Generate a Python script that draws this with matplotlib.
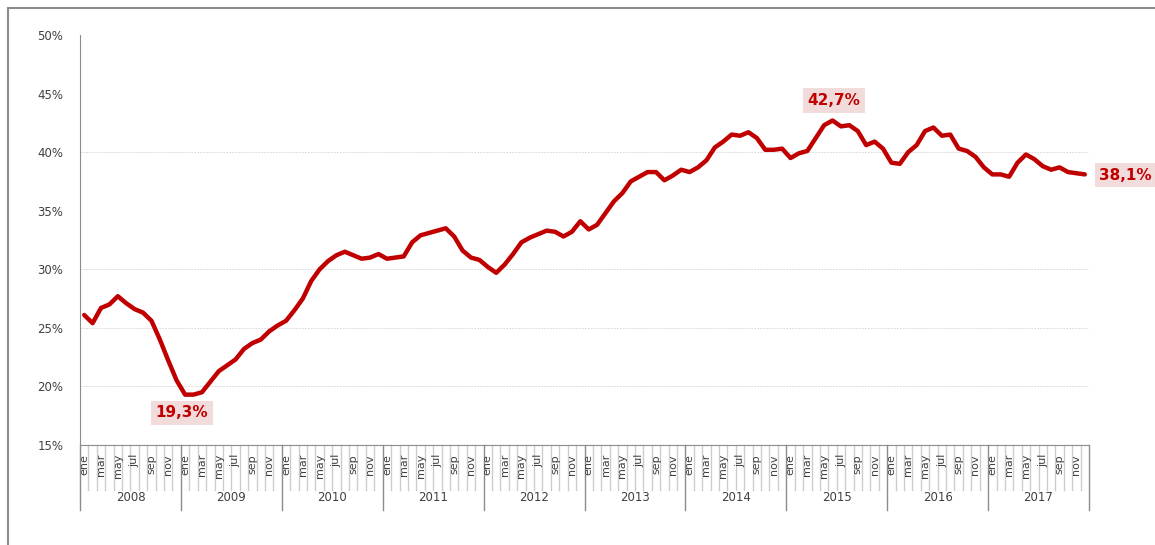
import matplotlib
matplotlib.use("Agg")
import matplotlib.pyplot as plt
import matplotlib.transforms as mtransforms
from matplotlib.patches import Rectangle
import numpy as np

years = ["2008", "2009", "2010", "2011", "2012", "2013", "2014", "2015", "2016", "2017"]
month_labels = ["ene", "", "mar", "", "may", "", "jul", "", "sep", "", "nov", ""]

# monthly values (%) per year
v2008 = [26.1, 25.4, 26.7, 27.0, 27.7, 27.1, 26.6, 26.3, 25.6, 24.0, 22.2, 20.5]
v2009 = [19.3, 19.3, 19.5, 20.4, 21.3, 21.8, 22.3, 23.2, 23.7, 24.0, 24.7, 25.2]
v2010 = [25.6, 26.5, 27.5, 29.0, 30.0, 30.7, 31.2, 31.5, 31.2, 30.9, 31.0, 31.3]
v2011 = [30.9, 31.0, 31.1, 32.3, 32.9, 33.1, 33.3, 33.5, 32.8, 31.6, 31.0, 30.8]
v2012 = [30.2, 29.7, 30.4, 31.3, 32.3, 32.7, 33.0, 33.3, 33.2, 32.8, 33.2, 34.1]
v2013 = [33.4, 33.8, 34.8, 35.8, 36.5, 37.5, 37.9, 38.3, 38.3, 37.6, 38.0, 38.5]
v2014 = [38.3, 38.7, 39.3, 40.4, 40.9, 41.5, 41.4, 41.7, 41.2, 40.2, 40.2, 40.3]
v2015 = [39.5, 39.9, 40.1, 41.2, 42.3, 42.7, 42.2, 42.3, 41.8, 40.6, 40.9, 40.3]
v2016 = [39.1, 39.0, 40.0, 40.6, 41.8, 42.1, 41.4, 41.5, 40.3, 40.1, 39.6, 38.7]
v2017 = [38.1, 38.1, 37.9, 39.1, 39.8, 39.4, 38.8, 38.5, 38.7, 38.3, 38.2, 38.1]

values = np.array(v2008 + v2009 + v2010 + v2011 + v2012 + v2013 + v2014 + v2015 + v2016 + v2017)
n = len(values)
x = np.arange(n) + 0.5

red = "#c00000"
fig = plt.figure(figsize=(11.55, 5.45), dpi=100)
fig.patches.append(Rectangle((8 / 1155, -0.1), 1.2, 0.1 + 537 / 545, transform=fig.transFigure,
                             fill=False, ec="#8c8c8c", lw=1.5))
ax = fig.add_axes([80 / 1155, 100 / 545, 1009 / 1155, 410 / 545])

ax.plot(x, values, color=red, lw=3.2, solid_joinstyle="round", solid_capstyle="round", zorder=3)

ax.set_xlim(0, n)
ax.set_ylim(15, 50)
ax.set_yticks(np.arange(15, 51, 5))
ax.set_yticklabels([f"{t}%" for t in range(15, 51, 5)], fontsize=8.5, color="#404040")
ax.tick_params(axis="y", length=0, pad=12)
ax.set_xticks([])
for g in [20, 25, 30, 40]:
    ax.axhline(g, color="#d4d4d4", lw=0.6, ls=(0, (2, 1.5)), zorder=1)

for s in ["top", "right"]:
    ax.spines[s].set_visible(False)
ax.spines["left"].set_color("#8c8c8c")
ax.spines["bottom"].set_color("#8c8c8c")

# category axis below the plot
trans = mtransforms.blended_transform_factory(ax.transData, ax.transAxes)
for i in range(n + 1):
    if i % 12 == 0:
        ax.plot([i, i], [0, -0.1585], transform=trans, clip_on=False, color="#8c8c8c", lw=1)
    else:
        ax.plot([i, i], [0, -0.11], transform=trans, clip_on=False, color="#cccccc", lw=1)
for i in range(n):
    lab = month_labels[i % 12]
    if lab:
        ax.text(i + 0.5, -0.022, lab, transform=trans, rotation=90, ha="center", va="top",
                fontsize=8, color="#404040")
for k, yr in enumerate(years):
    ax.text(k * 12 + 6, -0.128, yr, transform=trans, ha="center", va="center",
            fontsize=8.5, color="#404040")

# labels
box = dict(boxstyle="square,pad=0.3", fc="#f2dcdb", ec="none")
imin = int(np.argmin(values))
imax = int(np.argmax(values))
ax.annotate(f"{values[imin]:.1f}%".replace(".", ","), (x[imin], values[imin]),
            xytext=(-3, -18), textcoords="offset pixels", ha="center", va="center",
            fontsize=11, fontweight="bold", color=red, bbox=box, zorder=4)
ax.annotate(f"{values[imax]:.1f}%".replace(".", ","), (x[imax], values[imax]),
            xytext=(1, 20), textcoords="offset pixels", ha="center", va="center",
            fontsize=11, fontweight="bold", color=red, bbox=box, zorder=4)
ax.annotate(f"{values[-1]:.1f}%".replace(".", ","), (x[-1], values[-1]),
            xytext=(41, -1), textcoords="offset pixels", ha="center", va="center",
            fontsize=11, fontweight="bold", color=red, bbox=box, zorder=4,
            annotation_clip=False)

fig.savefig("out.png", dpi=100)
